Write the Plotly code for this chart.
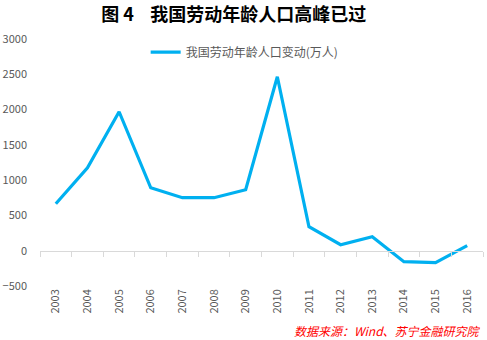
import plotly.graph_objects as go

years = ["2003", "2004", "2005", "2006", "2007", "2008", "2009", "2010",
         "2011", "2012", "2013", "2014", "2015", "2016"]
change = [666, 1175, 1969, 892, 751, 751, 864, 2465, 340, 85, 198, -156, -170, 71]
series_name = "我国劳动年龄人口变动(万人)"
title_text = "图 4&nbsp;&nbsp;&nbsp;&nbsp;我国劳动年龄人口高峰已过"
source_text = "数据来源：Wind、苏宁金融研究院"
y_ticks = [-500, 0, 500, 1000, 1500, 2000, 2500, 3000]

font_cn = "Noto Sans CJK SC, Liberation Sans, sans-serif"
grey = "#595959"

fig = go.Figure()
fig.add_trace(go.Scatter(
    x=years, y=change, mode="lines", name=series_name,
    line=dict(color="#00B0F0", width=3.2), xaxis="x", yaxis="y"))
fig.add_trace(go.Scatter(
    x=years, y=change, mode="lines", line=dict(width=0), showlegend=False,
    hoverinfo="skip", xaxis="x2", yaxis="y"))

zero_pos = (0 - y_ticks[0]) / (y_ticks[-1] - y_ticks[0])

fig.update_layout(
    width=487, height=340,
    margin=dict(l=40, r=4, t=39, b=54),
    paper_bgcolor="white", plot_bgcolor="white",
    font=dict(family=font_cn, color=grey, size=11),
    title=dict(text="<b>" + title_text + "</b>", x=0.48, xanchor="center",
               y=0.958, yanchor="middle",
               font=dict(size=18, color="#000000", family=font_cn)),
    legend=dict(orientation="h", x=0.462, xanchor="center", y=0.947, yanchor="middle",
                itemwidth=30,
                font=dict(size=12, color=grey), bgcolor="rgba(0,0,0,0)"),
    xaxis=dict(type="category", range=[-0.5, len(years) - 0.5], tickangle=-90,
               showline=False, showgrid=False, ticks="", tickfont=dict(size=11, color=grey)),
    xaxis2=dict(type="category", range=[-0.5, len(years) - 0.5], overlaying="x",
                anchor="free", position=zero_pos, side="bottom",
                showline=True, linecolor="#D9D9D9", linewidth=1,
                ticks="outside", tickson="boundaries", ticklen=5, tickcolor="#D9D9D9",
                showticklabels=False, showgrid=False),
    yaxis=dict(range=[y_ticks[0], y_ticks[-1]], tickvals=y_ticks, showgrid=False,
               zeroline=False, showline=False, ticks="", ticklabelstandoff=12,
               tickfont=dict(size=11, color=grey)),
    showlegend=True,
)
fig.add_annotation(text="<i>" + source_text + "</i>", xref="paper", yref="paper",
                   x=1.0, xanchor="right", y=-0.182, yanchor="middle", showarrow=False,
                   font=dict(size=12, color="#FF0000", family=font_cn))
fig.write_html("out.html")
